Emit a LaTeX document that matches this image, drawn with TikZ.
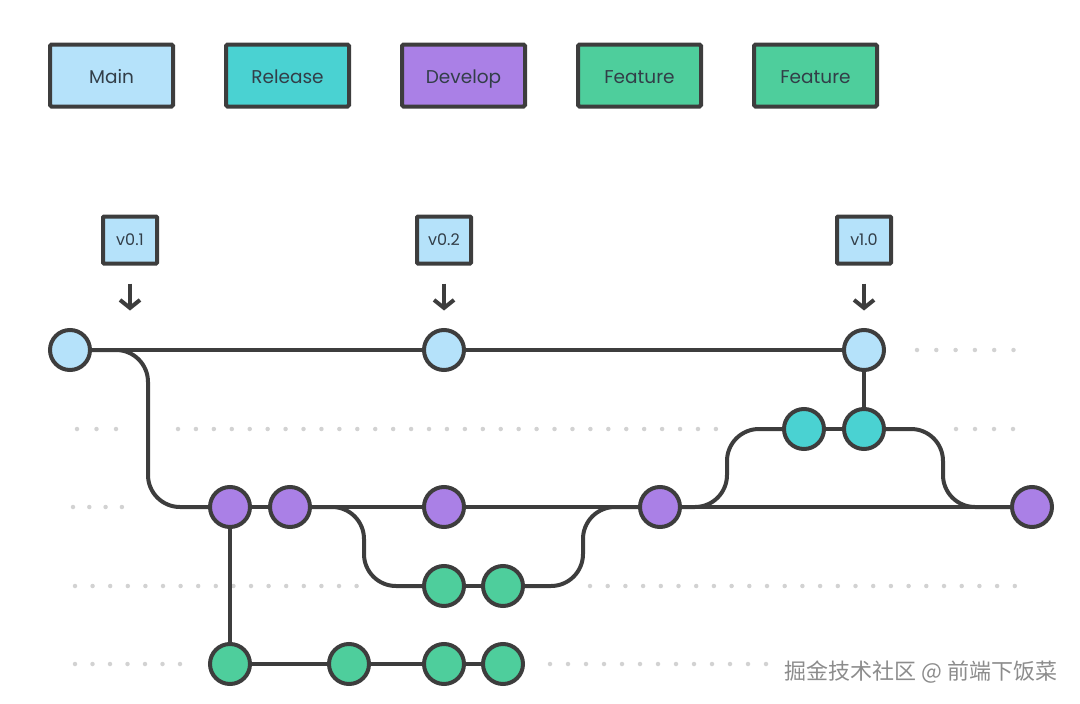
\documentclass[tikz,border=0pt]{standalone}
\usepackage{fontspec}
\setmainfont{Poppins}
\newfontfamily\cjkfont{Noto Sans CJK SC}
\usepackage{tikz}
\usetikzlibrary{arrows.meta, positioning}
\definecolor{mainblue}{RGB}{181,226,250}
\definecolor{releaseteal}{RGB}{74,210,210}
\definecolor{devpurple}{RGB}{170,128,230}
\definecolor{featgreen}{RGB}{78,206,156}
\definecolor{inkgray}{RGB}{61,61,61}
\definecolor{labelgray}{RGB}{50,62,72}
\definecolor{dotgray}{RGB}{210,210,210}

\begin{document}
\begin{tikzpicture}[
  x=1pt, y=-1pt,
  node distance=49pt,
  legend/.style={rectangle, rounded corners=1.5pt, draw=inkgray, line width=4pt,
              minimum width=123pt, minimum height=62pt, text=labelgray,
              text height=16pt, text depth=0pt,
              font=\fontsize{18.5}{21}\selectfont},
  tag/.style={rectangle, rounded corners=1pt, draw=inkgray, line width=4pt, fill=mainblue,
              minimum width=54pt, minimum height=47pt, text=labelgray,
              font=\fontsize{16}{18}\selectfont},
  commit/.style={circle, draw=inkgray, line width=4pt, minimum size=40pt, inner sep=0pt},
  branch/.style={inkgray, line width=4pt, rounded corners=32pt},
  tagarr/.style={-{Straight Barb[length=8pt,width=20pt]}, inkgray, line width=4pt},
  guide/.style={dotgray, line width=4.5pt, line cap=round, dash pattern=on 0pt off #1},
  guide/.default=18pt,
]
\useasboundingbox (0,0) rectangle (1080,704);

% legend
\node[legend, fill=mainblue] (lmain) at (111.5,75.5) {Main};
\node[legend, fill=releaseteal, right=of lmain] (lrelease) {Release};
\node[legend, fill=devpurple, right=of lrelease] (ldevelop) {Develop};
\node[legend, fill=featgreen, right=of ldevelop] (lfeata) {Feature};
\node[legend, fill=featgreen, right=of lfeata] (lfeatb) {Feature};

% dotted guides
\draw[guide=19.3pt] (917,350) -- (1013.5,350);
\draw[guide=19.5pt] (77,429) -- (116.5,429);
\draw[guide=17.93pt] (178,429) -- (716.5,429);
\draw[guide=19pt] (956,429) -- (1013.5,429);
\draw[guide=16.3pt] (73,507) -- (122.5,507);
\draw[guide=17.6pt] (75,586) -- (357.5,586);
\draw[guide=17.7pt] (590,586) -- (1015.3,586);
\draw[guide=17.5pt] (75,664) -- (180.5,664);
\draw[guide] (550,664) -- (766.5,664);

% tags
\node[tag] (v01) at (130,240) {v0.1};
\node[tag] (v02) at (444,240) {v0.2};
\node[tag] (v10) at (864,240) {v1.0};

\draw[tagarr] ([yshift=-18pt]v01.south) -- ([yshift=-45pt]v01.south);
\draw[tagarr] ([yshift=-18pt]v02.south) -- ([yshift=-45pt]v02.south);
\draw[tagarr] ([yshift=-18pt]v10.south) -- ([yshift=-45pt]v10.south);

% commits
\node[commit, fill=mainblue] (m1) at (70,350) {};
\node[commit, fill=mainblue] (m2) at (444,350) {};
\node[commit, fill=mainblue] (m3) at (864,350) {};

\node[commit, fill=releaseteal] (r1) at (804,429) {};
\node[commit, fill=releaseteal] (r2) at (864,429) {};

\node[commit, fill=devpurple] (d1) at (230,507) {};
\node[commit, fill=devpurple] (d2) at (290,507) {};
\node[commit, fill=devpurple] (d3) at (444,507) {};
\node[commit, fill=devpurple] (d4) at (660,507) {};
\node[commit, fill=devpurple] (d5) at (1032,507) {};

\node[commit, fill=featgreen] (fa1) at (444,586) {};
\node[commit, fill=featgreen] (fa2) at (503,586) {};

\node[commit, fill=featgreen] (fb1) at (230,664) {};
\node[commit, fill=featgreen] (fb2) at (349,664) {};
\node[commit, fill=featgreen] (fb3) at (444,664) {};
\node[commit, fill=featgreen] (fb4) at (503,664) {};

% bends
\coordinate (kdev) at (148,507);
\coordinate (kfa) at (364,586);
\coordinate (kfb) at (583,586);
\coordinate (krel) at (727,507);
\coordinate (kmrg) at (943,429);

% history
\draw[branch] (m1) -- (m2) -- (m3);
\draw[branch] (m1) -| (kdev) -- (d1);
\draw[branch] (d1) -- (d2) -- (d3) -- (d4) -- (d5);
\draw[branch] (d2) -| (kfa) -- (fa1);
\draw[branch] (fa1) -- (fa2);
\draw[branch] (fa2) -- (kfb) |- (d4);
\draw[branch] (d4) -- (krel) |- (r1);
\draw[branch] (r1) -- (r2);
\draw[branch] (r2) -- (kmrg) |- (d5);
\draw[branch] (r2) -- (m3);
\draw[branch] (d1) -- (fb1);
\draw[branch] (fb1) -- (fb2) -- (fb3) -- (fb4);

\node[anchor=east, text=black!45, font=\cjkfont\fontsize{22}{24}\selectfont] (mark) at (1061,672) {掘金技术社区 @ 前端下饭菜};

\end{tikzpicture}
\end{document}
